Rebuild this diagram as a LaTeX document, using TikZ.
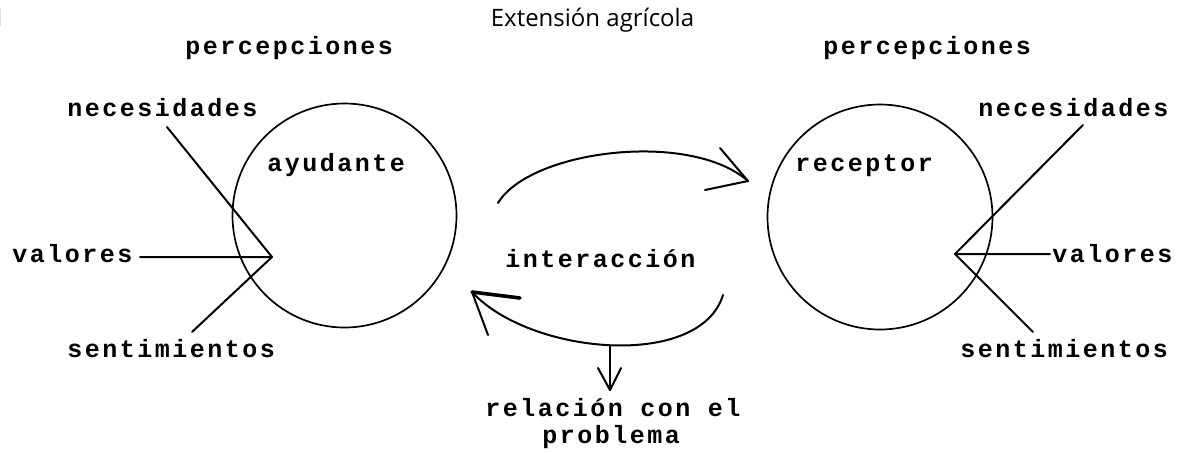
\documentclass[tikz,border=0pt]{standalone}
\usepackage{fontspec}
\setmainfont{Open Sans}
\newfontfamily\tw[LetterSpace=10]{Liberation Mono Bold}
\begin{document}
\begin{tikzpicture}[x=0.5pt,y=-0.5pt,
  tt/.style={font=\tw\fontsize{12.5pt}{14pt}\selectfont, inner sep=0pt, anchor=base west},
  ln/.style={line width=1pt, line cap=round, line join=round},
  circ/.style={line width=0.85pt}]
\useasboundingbox (0,0) rectangle (1180,452);
% header
\node[font=\fontsize{12pt}{14pt}\selectfont, inner sep=0pt, anchor=base east] (num) at (6,26) {1};
\node[font=\fontsize{12pt}{14pt}\selectfont, inner sep=0pt, anchor=base] (title) at (592.5,26) {Extensión agrícola};
% left side
\node[tt] (percL) at (185,54) {percepciones};
\node[tt] (necL) at (67,116) {necesidades};
\node[tt] (valL) at (12,262) {valores};
\node[tt] (senL) at (67,357) {sentimientos};
\node[tt] (ayu) at (267,171) {ayudante};
\node[circ, draw, circle, minimum size=112pt, inner sep=0pt] (cL) at (344.5,215.5) {};
\coordinate (vL) at (272,257);
\coordinate (nL) at (167,127);
\coordinate (wL) at (140,257);
\coordinate (sL) at (192,332);
\draw[ln] (nL) -- (vL) -- (wL);
\draw[ln] (vL) -- (sL);
% right side
\node[tt] (percR) at (823,54) {percepciones};
\node[tt] (necR) at (978,116) {necesidades};
\node[tt] (valR) at (1052,262) {valores};
\node[tt] (senR) at (960,357) {sentimientos};
\node[tt] (rec) at (795,171) {receptor};
\node[circ, draw, circle, minimum size=112.5pt, inner sep=0pt] (cR) at (880,217) {};
\coordinate (vR) at (955,254);
\coordinate (nR) at (1083,125);
\coordinate (wR) at (1050,254);
\coordinate (sR) at (1033,332);
\draw[ln] (nR) -- (vR) -- (wR);
\draw[ln] (vR) -- (sR);
% interaction
\node[tt] (inter) at (505,267) {interacción};
\coordinate (a1s) at (498,203);
\coordinate (a1t) at (748,181);
\coordinate (a1h1) at (720,148);
\coordinate (a1h2) at (705,190);
\draw[ln] (a1s) .. controls (530,150) and (690,130) .. (a1t);
\draw[ln] (a1h1) -- (a1t) -- (a1h2);
\coordinate (a2s) at (723,295);
\coordinate (a2t) at (472,292);
\coordinate (a2h1) at (520,298);
\coordinate (a2h2) at (488,335);
\draw[ln] (a2s) .. controls (700,370) and (530,355) .. (a2t);
\draw[ln, line width=1.8pt] (a2h1) -- (a2t);
\draw[ln] (a2t) -- (a2h2);
% down arrow
\coordinate (d0) at (610,346);
\coordinate (d1) at (610,390);
\coordinate (dh1) at (598,368);
\coordinate (dh2) at (621,368);
\draw[ln] (d0) -- (d1);
\draw[ln] (dh1) -- (d1) -- (dh2);
\node[tt] (rel) at (485,416) {relación con el};
\node[tt] (prob) at (542,443) {problema};
\end{tikzpicture}
\end{document}
